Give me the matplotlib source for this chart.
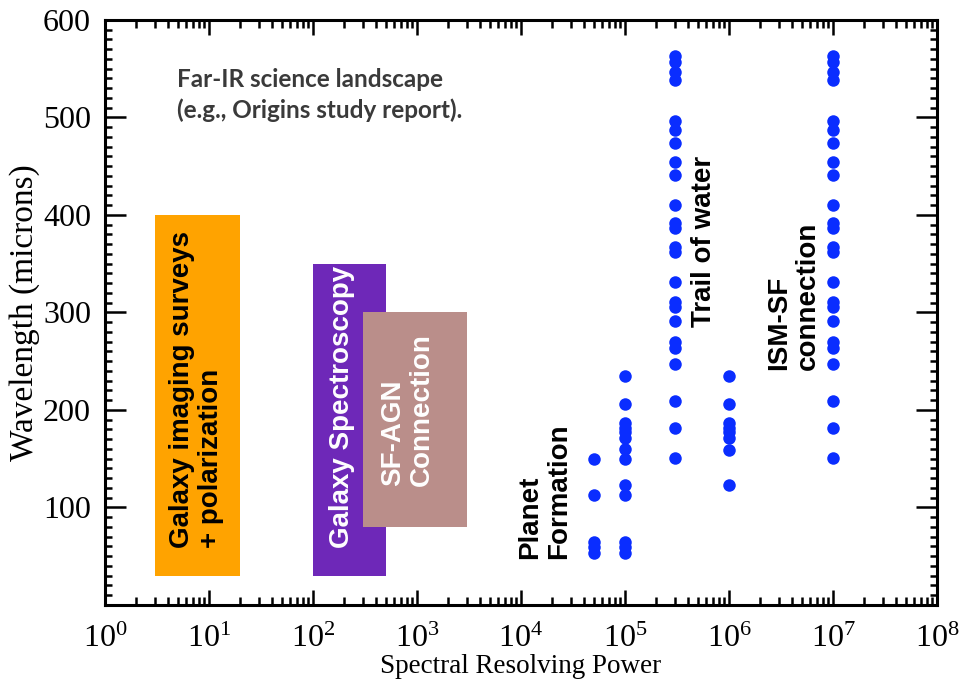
import matplotlib
matplotlib.use("Agg")
import matplotlib.pyplot as plt
from matplotlib.patches import Rectangle
from matplotlib.ticker import MultipleLocator, LogLocator

# ---- data ----
col_5e4 = [150, 112.6, 65, 59, 53]
col_1e5 = [235, 206, 187, 182, 177, 171, 160, 149.5, 123, 112.6, 65, 59, 53]
col_3e5 = [563, 557, 547, 538, 496, 487, 474, 454, 441, 410, 392, 387, 367, 362,
           331, 311, 306, 291, 270, 264, 247, 209, 182, 151]
col_1e6 = [235, 206, 187, 182, 177, 171, 159, 123]
col_1e7 = list(col_3e5)
columns_R = [5e4, 1e5, 3e5, 1e6, 1e7]
columns_lam = [col_5e4, col_1e5, col_3e5, col_1e6, col_1e7]

# boxes
box_names = ["imaging", "spectroscopy", "sfagn"]
box_R = [(3, 20), (100, 500), (300, 3000)]
box_lam = [(30, 400), (30, 350), (80, 300)]
box_colors = ["#FFA300", "#6E28B8", "#BA8E8A"]

xtick_exps = list(range(0, 9))
yticks = [100, 200, 300, 400, 500, 600]

plt.rcParams['font.family'] = ['Liberation Serif', 'DejaVu Serif']
plt.rcParams['mathtext.fontset'] = 'custom'
plt.rcParams['mathtext.rm'] = 'Liberation Serif'
plt.rcParams['mathtext.it'] = 'Liberation Serif:italic'
plt.rcParams['mathtext.bf'] = 'Liberation Serif:bold'

fig = plt.figure(figsize=(9.63, 6.84), dpi=100)
ax = fig.add_axes([0.109, 0.1155, 0.864, 0.8553])
ax.set_xscale('log')
ax.set_xlim(1, 1e8)
ax.set_ylim(0, 600)

for (r0, r1), (l0, l1), c in zip(box_R, box_lam, box_colors):
    ax.add_patch(Rectangle((r0, l0), r1 - r0, l1 - l0, facecolor=c, edgecolor='none', zorder=2))

for R, lams in zip(columns_R, columns_lam):
    ax.plot([R] * len(lams), lams, 'o', color='#0A2DFF', markersize=9,
            markeredgewidth=0, zorder=3)

sans = ['Liberation Sans', 'DejaVu Sans']
fs = 20
ls = 1.15
ax.text(7.6, 221, "Galaxy imaging surveys\n+ polarization", rotation=90, ha='center', va='center',
        multialignment='left', fontsize=fs, fontweight='bold', family=sans, color='black',
        linespacing=ls, zorder=4)
ax.text(191, 203, "Galaxy Spectroscopy", rotation=90, ha='center', va='center',
        fontsize=fs, fontweight='bold', family=sans, color='white', zorder=4)
ax.text(815, 200.6, "SF-AGN\nConnection", rotation=90, ha='center', va='center',
        multialignment='left', fontsize=fs, fontweight='bold', family=sans, color='white',
        linespacing=ls, zorder=4)
ax.text(17000, 116.7, "Planet\nFormation", rotation=90, ha='center', va='center',
        multialignment='left', fontsize=fs, fontweight='bold', family=sans, color='black',
        linespacing=ls, zorder=4)
ax.text(5.7e5, 372.6, "Trail of water", rotation=90, ha='center', va='center',
        fontsize=fs, fontweight='bold', family=sans, color='black', zorder=4)
ax.text(4.2e6, 317, "ISM-SF\nconnection", rotation=90, ha='center', va='center',
        multialignment='left', fontsize=fs, fontweight='bold', family=sans, color='black',
        linespacing=ls, zorder=4)
ax.text(4.89, 523, "Far-IR science landscape\n(e.g., Origins study report).", ha='left', va='center',
        fontsize=17.5, fontweight='bold', family=['Lato', 'DejaVu Sans'], color='#3A3A3A',
        linespacing=1.35, zorder=4)

ax.set_xticks([10.0 ** e for e in xtick_exps])
ax.set_xticklabels([r"$\mathregular{10^{%d}}$" % e for e in xtick_exps])
ax.xaxis.set_minor_locator(LogLocator(base=10, subs=range(2, 10), numticks=100))
ax.set_yticks(yticks)
ax.set_yticklabels([str(v) for v in yticks])
ax.yaxis.set_minor_locator(MultipleLocator(10))

for s in ax.spines.values():
    s.set_linewidth(2.2)
ax.tick_params(axis='both', which='both', direction='in', top=True, right=True,
               labelsize=23, width=1.8)
ax.tick_params(axis='x', which='major', length=11, pad=14)
ax.tick_params(axis='x', which='minor', length=5.5)
ax.tick_params(axis='y', which='major', length=15, pad=10)
ax.tick_params(axis='y', which='minor', length=5)

ax.set_xlabel("Spectral Resolving Power", fontsize=19.5, labelpad=0)
ax.set_ylabel("Wavelength (microns)", fontsize=24, labelpad=2)

fig.savefig("out.png", dpi=100)
